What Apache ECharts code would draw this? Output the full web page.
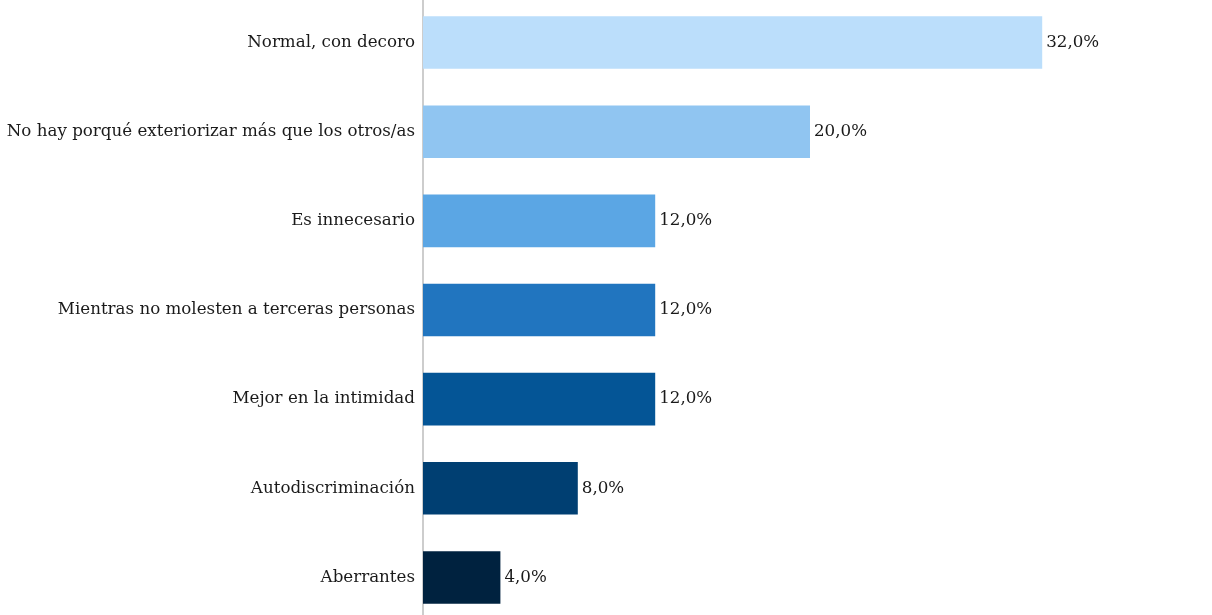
<!DOCTYPE html>
<html>
<head>
<meta charset="utf-8">
<script src="https://cdn.jsdelivr.net/npm/echarts@6/dist/echarts.min.js"></script>
<style>
  html, body { margin: 0; padding: 0; background: #ffffff; }
  #chart { width: 1212px; height: 615px; }
</style>
</head>
<body>
<div id="chart"></div>
<script>
// Answer categories, top to bottom
const categories = [
  'Normal, con decoro',
  'No hay porqué exteriorizar más que los otros/as',
  'Es innecesario',
  'Mientras no molesten a terceras personas',
  'Mejor en la intimidad',
  'Autodiscriminación',
  'Aberrantes'
];
// Share of responses (%)
const values = [32, 20, 12, 12, 12, 8, 4];
// One shade of blue per bar, light to dark
const barColors = ['#BBDEFB', '#90C5F1', '#5BA6E4', '#2175BF', '#045596', '#003F72', '#00223F'];

const chart = echarts.init(document.getElementById('chart'));
const fontFamily = '"DejaVu Serif", serif';

chart.setOption({
  animation: false,
  grid: {
    left: 423, top: -2, width: 774, height: 624,
    containLabel: false,
    outerBoundsMode: 'none'
  },
  xAxis: {
    type: 'value', min: 0, max: 40,
    show: false
  },
  yAxis: {
    type: 'category',
    inverse: true,
    data: categories,
    axisLine: { show: true, lineStyle: { color: '#BDBDBD', width: 1.5 } },
    axisTick: { show: false },
    axisLabel: { color: '#1a1a1a', fontFamily: fontFamily, fontSize: 16.7, margin: 8 }
  },
  series: [{
    type: 'bar',
    barWidth: '59%',
    data: values.map((v, i) => ({ value: v, itemStyle: { color: barColors[i] } })),
    label: {
      show: true,
      position: 'right',
      distance: 4,
      color: '#1a1a1a',
      fontFamily: fontFamily,
      fontSize: 16.7,
      formatter: p => p.value.toFixed(1).replace('.', ',') + '%'
    }
  }]
});
</script>
</body>
</html>
